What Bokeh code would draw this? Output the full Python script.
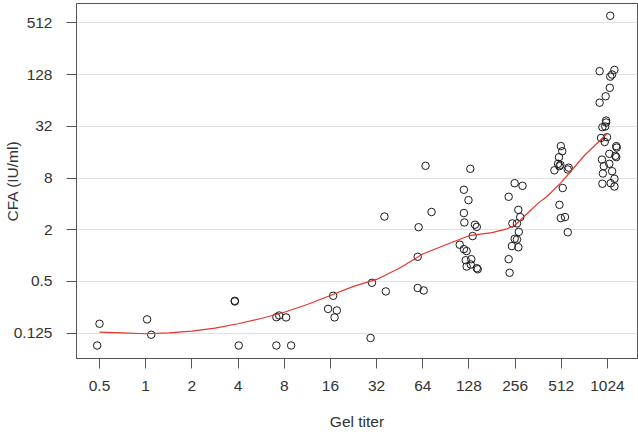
from bokeh.plotting import figure
from bokeh.models import Range1d, FixedTicker, NumeralTickFormatter, ColumnDataSource
from bokeh.embed import file_html
from bokeh.resources import INLINE

# ---- data ----
x_ticks = [0.5, 1, 2, 4, 8, 16, 32, 64, 128, 256, 512, 1024]
y_ticks = [0.125, 0.5, 2, 8, 32, 128, 512]

group_titers = [0.5, 1, 4, 8, 16, 32, 64, 128, 256, 512, 1024]
# horizontal jitter of each point (in doublings of titer)
jitter_by_group = [
    [0.0, -0.05],
    [0.03, 0.12],
    [-0.07, -0.07, 0.015],
    [-0.17, -0.11, 0.04, -0.17, 0.15],
    [0.06, -0.05, 0.14, 0.09],
    [-0.10, 0.20, 0.17, -0.13],
    [0.06, 0.19, -0.09, -0.11, -0.11, 0.02],
    [0.03, -0.11, -0.01, -0.11, -0.10, 0.13, 0.17, 0.08, -0.20, -0.11, -0.05,
     -0.07, 0.05, -0.05, 0.04, 0.17, 0.19],
    [-0.01, 0.16, -0.14, 0.07, 0.11, -0.06, 0.04, 0.08, -0.01, 0.04, -0.07,
     0.07, -0.14, -0.12],
    [-0.01, 0.02, -0.05, -0.07, -0.02, -0.04, -0.15, 0.16, 0.14, 0.03, -0.04,
     -0.01, 0.08, 0.14],
    [0.06, -0.17, 0.15, 0.10, 0.06, 0.05, -0.04, -0.17, -0.03, -0.03, -0.11,
     -0.05, -0.14, -0.01, -0.06, 0.19, 0.20, 0.04, 0.17, -0.12, 0.19, -0.08,
     0.04, 0.10, -0.10, 0.15, -0.11, 0.07, 0.15],
]
cfa_by_group = [
    [0.161, 0.090],
    [0.181, 0.120],
    [0.298, 0.293, 0.090],
    [0.192, 0.201, 0.191, 0.090, 0.090],
    [0.341, 0.240, 0.230, 0.191],
    [0.483, 0.383, 2.85, 0.110],
    [11.1, 3.22, 2.14, 0.969, 0.420, 0.393],
    [10.24, 5.84, 4.42, 3.13, 2.43, 2.29, 2.16, 1.69, 1.34, 1.19, 1.13,
     0.884, 0.909, 0.747, 0.788, 0.714, 0.694],
    [6.96, 6.49, 4.84, 3.41, 2.81, 2.37, 2.37, 1.89, 1.57, 1.54, 1.29,
     1.25, 0.909, 0.631],
    [18.8, 16.4, 13.98, 11.7, 11.4, 10.98, 9.84, 10.55, 10.05, 6.12, 3.90,
     2.73, 2.81, 1.87],
    [618, 140, 145, 128, 121, 89.7, 71.5, 60.2, 37.3, 35.4, 31.2,
     31.8, 23.4, 23.9, 21.0, 18.8, 18.1, 15.3, 14.5, 13.1, 14.0, 11.0,
     11.7, 9.6, 9.03, 7.84, 6.86, 6.96, 6.37],
]

# smooth (loess-like) trend line
curve_titer = [0.5, 0.707, 1, 1.414, 2, 2.83, 4, 5.66, 8, 11.3, 16, 22.6,
               32, 45.3, 64, 90.5, 128, 181, 227, 256, 322, 362, 413, 512,
               724, 1024]
curve_cfa = [0.1285, 0.1259, 0.1233, 0.1259, 0.1321, 0.1436, 0.1612, 0.1856,
             0.2192, 0.2699, 0.3439, 0.4383, 0.5285, 0.7170, 1.0425, 1.338,
             1.705, 1.853, 2.05, 2.266, 3.35, 4.084, 4.88, 7.111, 14.62, 26.54]

# ---- build ----
xs, ys = [], []
for t, jits, vals in zip(group_titers, jitter_by_group, cfa_by_group):
    for j, v in zip(jits, vals):
        xs.append(t * 2 ** j)
        ys.append(v)

FONT = "Liberation Sans"
TXT = "#333333"

p = figure(width=638, height=435, output_backend="svg", toolbar_location=None,
           x_axis_type="log", y_axis_type="log",
           x_range=Range1d(2 ** -1.498, 2 ** 10.65),
           y_range=Range1d(2 ** -3.977, 2 ** 9.746),
           min_border_left=76, min_border_right=1, min_border_top=3,
           min_border_bottom=77)

p.background_fill_color = "white"
p.border_fill_color = "white"
p.outline_line_color = "#555555"
p.outline_line_width = 1

p.xgrid.visible = False
p.ygrid.grid_line_color = "#e2e2e2"
p.ygrid.grid_line_width = 1

for ax, ticks in ((p.xaxis, x_ticks), (p.yaxis, y_ticks)):
    ax.ticker = FixedTicker(ticks=ticks, minor_ticks=[])
    ax.formatter = NumeralTickFormatter(format="0.[000]")
    ax.major_tick_out = 10
    ax.major_tick_in = 0
    ax.minor_tick_out = 0
    ax.minor_tick_in = 0
    ax.major_tick_line_color = "#555555"
    ax.axis_line_color = "#555555"
    ax.major_label_text_font = FONT
    ax.major_label_text_font_size = "15.5px"
    ax.major_label_text_color = TXT
    ax.axis_label_text_font = FONT
    ax.axis_label_text_font_size = "15.5px"
    ax.axis_label_text_font_style = "normal"
    ax.axis_label_text_color = TXT

p.xaxis.axis_label = "Gel titer"
p.yaxis.axis_label = "CFA (IU/ml)"
p.xaxis.major_label_standoff = 12
p.xaxis.axis_label_standoff = 19
p.yaxis.major_label_standoff = 14
p.yaxis.axis_label_standoff = -10
p.yaxis.major_label_orientation = "horizontal"

src = ColumnDataSource(data=dict(x=xs, y=ys))
p.scatter("x", "y", source=src, marker="circle", size=7.5, fill_color=None,
          line_color="#1a1a1a", line_width=1)
p.line(curve_titer, curve_cfa, line_color="#e8342c", line_width=1.2)

open("out.html", "w").write(file_html(p, INLINE))
